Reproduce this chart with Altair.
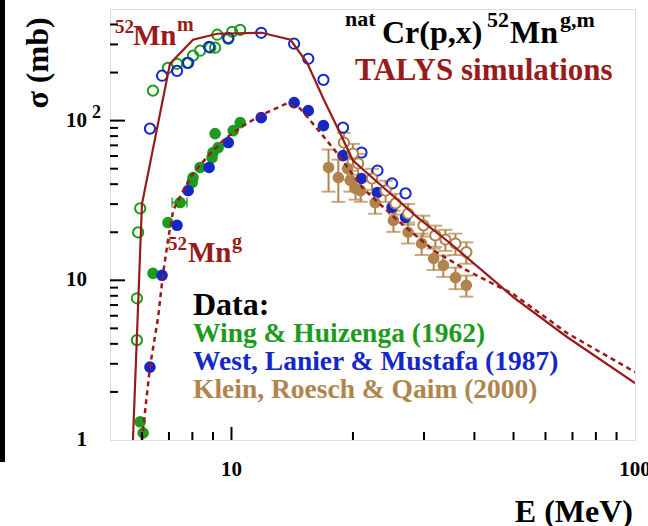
import altair as alt
import pandas as pd

# ---------------- data ----------------
wing_m_E = [5.83, 5.83, 5.87, 5.94, 6.39, 6.96, 7.33, 7.76, 8.03, 8.36, 8.86, 9.11, 9.22, 9.82, 10.04, 10.51]
wing_m_s = [4.22, 7.72, 19.95, 28.2, 154, 214, 227, 230, 255, 274, 286, 286, 345, 325, 360, 370]

wing_g_E = [5.94, 6.04, 6.39, 6.96, 7.46, 7.99, 8.03, 8.36, 8.95, 9.0, 9.27, 9.11, 10.1, 10.51]
wing_g_s = [1.30, 1.106, 11.06, 23.0, 30.7, 41.0, 44.0, 50.9, 58.7, 63.1, 67.8, 82.9, 86.6, 97.2]
wing_xerr_E = [7.46]
wing_xerr_s = [30.7]
wing_xerr_lo = [7.13]
wing_xerr_hi = [7.76]

west_E = [6.28, 6.73, 7.33, 7.81, 8.80, 9.82, 11.85, 14.3, 15.5, 16.9, 18.9, 21.0, 23.0, 25.0, 27.0]
west_m_s = [89.1, 191, 205, 230, 290, 330, 355, 303, 244, 180, 90.4, 63.1, 48.7, 40.4, 35.0]
west_g_s = [2.86, 10.75, 22.1, 36.5, 50.9, 72.9, 104.4, 129.6, 115.5, 93.0, 60.4, 43.4, 35.5, 28.6, 24.8]

klein_g_E = [17.4, 18.4, 19.4, 19.7, 20.3, 20.9, 22.7, 25.2, 27.4, 29.6, 31.7, 33.5, 35.9, 38.2]
klein_g_s = [50.9, 44.0, 50.1, 42.2, 37.6, 36.5, 30.7, 23.7, 20.0, 17.0, 13.7, 12.4, 10.4, 9.3]
klein_g_err = [15, 13, 7.5, 6.3, 5.6, 5.5, 4.6, 3.6, 3.0, 2.6, 2.1, 1.9, 1.6, 1.4]

klein_m_E = [19.0, 20.0, 20.6, 22.3, 24.1, 25.5, 27.4, 29.9, 32.0, 33.9, 35.9, 38.2]
klein_m_s = [72.9, 62.2, 53.9, 43.4, 36.5, 30.3, 26.2, 22.1, 19.1, 18.0, 17.0, 15.0]
klein_m_err = [10.9, 9.3, 8.1, 6.5, 5.5, 4.5, 3.9, 3.3, 2.9, 2.7, 2.6, 2.3]

talys_m_E = [5.7, 6.0, 7.04, 8.03, 9.22, 11.9, 14.0, 15.4, 16.9, 18.6, 20.0, 23.8, 28.9, 34.9, 50, 68, 100]
talys_m_s = [1.0, 30, 227, 321, 350, 355, 321, 230, 137, 83, 56.2, 38.1, 24.8, 17.0, 7.83, 4.40, 2.27]

talys_g_E = [6.0, 6.28, 6.58, 6.77, 6.96, 7.17, 7.55, 8.03, 8.85, 9.65, 10.7, 11.9, 13.7, 14.8, 16.3,
             18.3, 21.2, 25.8, 31.7, 38.4, 50, 68, 100]
talys_g_s = [1.0, 2.86, 5.87, 11.06, 17.8, 27.4, 35.5, 46.6, 62.2, 77.2, 93.0, 109, 128, 119, 89.1,
             62.2, 37.6, 23.7, 15.4, 11.5, 8.18, 4.66, 2.66]

x_major = [10]
x_minor = [6, 7, 8, 9, 20, 30, 40, 50, 60, 70, 80, 90]
y_major = [10, 100]
y_minor = [2, 3, 4, 5, 6, 7, 8, 9, 20, 30, 40, 50, 60, 70, 80, 90, 200, 300, 400]
x_tick_vals = [10, 100]
x_tick_text = ["10", "100"]
y_tick_vals = [1, 10, 100]
y_tick_text = ["1", "10", "10"]

# ---------------- styling ----------------
W, H = 525, 431
FONT = "Liberation Serif"
RED = "#991a1a"
GREEN = "#1e9a1e"
BLUE = "#1428c8"
BROWN = "#b0844c"

xs = alt.Scale(type="log", domain=[5, 100], nice=False)
ys = alt.Scale(type="log", domain=[1, 500], nice=False)


def X(f):
    return alt.X(f, type="quantitative", scale=xs, axis=None)


def Y(f):
    return alt.Y(f, type="quantitative", scale=ys, axis=None)


def df(**kw):
    return pd.DataFrame(kw)


one = df(a=[0])

layers = []

# error bars (Klein)
kg = df(E=klein_g_E, s=klein_g_s, lo=[s - e for s, e in zip(klein_g_s, klein_g_err)],
        hi=[s + e for s, e in zip(klein_g_s, klein_g_err)])
km = df(E=klein_m_E, s=klein_m_s, lo=[s - e for s, e in zip(klein_m_s, klein_m_err)],
        hi=[s + e for s, e in zip(klein_m_s, klein_m_err)])
for d in (kg, km):
    base = alt.Chart(d)
    layers.append(base.mark_rule(color=BROWN, strokeWidth=2).encode(x=X("E"), y=Y("lo"), y2="hi"))
    layers.append(base.mark_tick(color=BROWN, orient="horizontal", size=14, thickness=2)
                  .encode(x=X("E"), y=Y("lo")))
    layers.append(base.mark_tick(color=BROWN, orient="horizontal", size=14, thickness=2)
                  .encode(x=X("E"), y=Y("hi")))

# green x-error bar
wx = df(E=wing_xerr_E, s=wing_xerr_s, lo=wing_xerr_lo, hi=wing_xerr_hi)
layers.append(alt.Chart(wx).mark_rule(color=GREEN, strokeWidth=2).encode(x=X("lo"), x2="hi", y=Y("s")))
layers.append(alt.Chart(wx).mark_tick(color=GREEN, orient="vertical", size=10, thickness=2)
              .encode(x=X("lo"), y=Y("s")))
layers.append(alt.Chart(wx).mark_tick(color=GREEN, orient="vertical", size=10, thickness=2)
              .encode(x=X("hi"), y=Y("s")))


def open_pts(E, s, color, fill=None):
    kw = dict(shape="circle", size=105, strokeWidth=2, color=color, opacity=1)
    if fill:
        kw.update(filled=True, fill=fill, stroke=color)
    else:
        kw.update(filled=False)
    return alt.Chart(df(E=E, s=s)).mark_point(**kw).encode(x=X("E"), y=Y("s"))


def full_pts(E, s, color):
    return alt.Chart(df(E=E, s=s)).mark_circle(size=135, color=color, opacity=1).encode(x=X("E"), y=Y("s"))


layers += [
    open_pts(wing_m_E, wing_m_s, GREEN),
    full_pts(wing_g_E, wing_g_s, GREEN),
    open_pts(west_E, west_m_s, BLUE),
    full_pts(west_E, west_g_s, BLUE),
    open_pts(klein_m_E, klein_m_s, BROWN, fill="white"),
    full_pts(klein_g_E, klein_g_s, BROWN),
]

# TALYS curves
layers.append(alt.Chart(df(E=talys_m_E, s=talys_m_s)).mark_line(color=RED, strokeWidth=2.2, clip=True)
              .encode(x=X("E"), y=Y("s")))
layers.append(alt.Chart(df(E=talys_g_E, s=talys_g_s))
              .mark_line(color=RED, strokeWidth=2.5, strokeDash=[5, 4], clip=True)
              .encode(x=X("E"), y=Y("s")))

# axis ticks (inside the frame)
layers.append(alt.Chart(df(v=x_major)).mark_rule(color="black", strokeWidth=2)
              .encode(x=X("v"), y=alt.value(H), y2=alt.value(H - 13)))
layers.append(alt.Chart(df(v=x_minor)).mark_rule(color="black", strokeWidth=2)
              .encode(x=X("v"), y=alt.value(H), y2=alt.value(H - 8)))
layers.append(alt.Chart(df(v=y_major)).mark_rule(color="black", strokeWidth=2)
              .encode(y=Y("v"), x=alt.value(0), x2=alt.value(15)))
layers.append(alt.Chart(df(v=y_minor)).mark_rule(color="black", strokeWidth=2)
              .encode(y=Y("v"), x=alt.value(0), x2=alt.value(8)))

# tick labels
layers.append(alt.Chart(df(v=y_tick_vals, t=y_tick_text))
              .mark_text(align="right", baseline="middle", font=FONT, fontWeight="bold", fontSize=21, color="black")
              .encode(y=Y("v"), x=alt.value(-23), text="t:N"))
layers.append(alt.Chart(df(v=[100], t=["2"]))
              .mark_text(align="left", baseline="middle", font=FONT, fontWeight="bold", fontSize=18,
                         color="black", dy=-8)
              .encode(y=Y("v"), x=alt.value(-18), text="t:N"))
layers.append(alt.Chart(df(v=x_tick_vals, t=x_tick_text))
              .mark_text(align="center", baseline="middle", font=FONT, fontWeight="bold", fontSize=21, color="black")
              .encode(x=X("v"), y=alt.value(461), text="t:N"))


def label(txt, x, y, size, color="black", align="left", angle=0, baseline="alphabetic"):
    kw = dict(text=txt, align=align, baseline=baseline, font=FONT, fontWeight="bold",
              fontSize=size, color=color)
    if angle:
        kw["angle"] = angle
    return alt.Chart(one).mark_text(**kw).encode(x=alt.value(x), y=alt.value(y))


layers += [
    # axis titles
    label("σ (mb)", -72, 54, 32, angle=270, align="center", baseline="middle"),
    label("E (MeV)", 523, 513, 32, align="right"),
    # 52Mn^m
    label("52", 5, 24, 19, RED),
    label("Mn", 23, 36, 29, RED),
    label("m", 67, 22, 20, RED),
    # 52Mn^g
    label("52", 58, 241, 19, RED),
    label("Mn", 78, 253, 29, RED),
    label("g", 122, 239, 20, RED),
    # title
    label("nat", 235, 17, 22),
    label("Cr(p,x)", 272, 34, 32),
    label("52", 377, 18, 22),
    label("Mn", 400, 34, 32),
    label("g,m", 450, 18, 22),
    label("TALYS simulations", 245, 71, 31, RED),
    # legend
    label("Data:", 83, 306, 32),
    label("Wing & Huizenga (1962)", 83, 333, 27.5, GREEN),
    label("West, Lanier & Mustafa (1987)", 83, 361, 27.5, BLUE),
    label("Klein, Roesch & Qaim (2000)", 83, 389, 27.5, BROWN),
]

# black bar at the far left edge of the picture
layers.append(alt.Chart(one).mark_rule(color="black", strokeWidth=5)
              .encode(x=alt.value(-107.5), y=alt.value(-9), y2=alt.value(453)))

chart = (
    alt.layer(*layers)
    .properties(width=W, height=H, autosize=alt.AutoSizeParams(type="none"),
                padding={"left": 110, "top": 9, "right": 13, "bottom": 86})
    .configure_view(stroke="black", strokeWidth=2)
    .configure(background="white")
)

chart.save("out.html", embed_options={"renderer": "svg", "actions": False})
